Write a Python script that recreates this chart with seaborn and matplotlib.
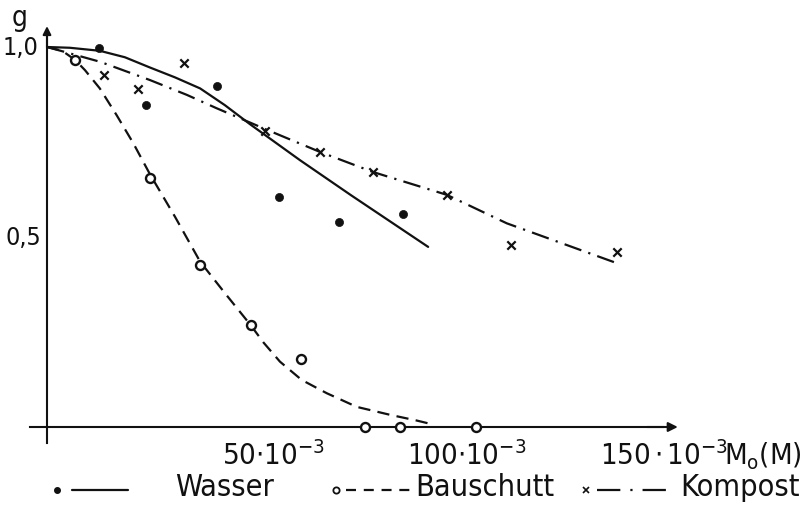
import matplotlib
matplotlib.use("Agg")
import matplotlib.pyplot as plt
import seaborn as sns
from matplotlib.lines import Line2D

# ---------------- data ----------------
wasser_x = [13.7, 26.0, 44.8, 61.0, 76.8, 93.7]
wasser_y = [0.997, 0.847, 0.897, 0.605, 0.540, 0.560]
wasser_fit_x = [0, 6, 13.9, 20.5, 27.1, 33.7, 40.3, 46.8, 53.4, 66.6, 80, 100.3]
wasser_fit_y = [1.0, 0.998, 0.990, 0.973, 0.946, 0.920, 0.891, 0.847, 0.797,
                0.702, 0.610, 0.474]

bau_x = [7.4, 27.1, 40.3, 53.6, 66.8, 83.7, 92.9, 112.9]
bau_y = [0.966, 0.655, 0.426, 0.268, 0.178, 0.0, 0.0, 0.0]
bau_fit_x = [0, 4, 7.4, 10, 13.9, 18.3, 22.7, 27.1, 33.7, 40.3, 47, 53.6, 57,
             61.3, 67, 73.6, 81.5, 90.3, 97.3, 101]
bau_fit_y = [1.0, 0.99, 0.966, 0.939, 0.891, 0.821, 0.747, 0.665, 0.553, 0.435,
             0.35, 0.268, 0.222, 0.172, 0.124, 0.089, 0.053, 0.032, 0.017, 0.008]

komp_x = [15.0, 24.0, 36.1, 57.5, 71.8, 85.8, 105.2, 122.0, 150.0]
komp_y = [0.926, 0.889, 0.958, 0.779, 0.724, 0.671, 0.611, 0.479, 0.461]
komp_fit_x = [0, 14, 27.1, 36.8, 44.6, 57.9, 71.8, 85.8, 105.2, 121, 150]
komp_fit_y = [1.0, 0.961, 0.913, 0.874, 0.839, 0.782, 0.724, 0.671, 0.611,
              0.536, 0.431]

x_ticks = [50, 100, 150]
x_tick_labels = [r"$\mathregular{50{\cdot}10^{-3}}$",
                 r"$\mathregular{100{\cdot}10^{-3}}$",
                 r"$\mathregular{150\,{\cdot}\,10^{-3}\!M_{o}(M)}$"]
y_ticks = [0.5, 1.0]
y_tick_labels = ["0,5", "1,0"]
series_names = ["Wasser", "Bauschutt", "Kompost"]

# ---------------- style ----------------
sns.set_style("white")
plt.rcParams["font.family"] = ["DejaVu Sans"]
plt.rcParams["font.stretch"] = "condensed"
plt.rcParams["mathtext.fontset"] = "custom"
plt.rcParams["mathtext.rm"] = "DejaVu Sans:stretch=condensed"
plt.rcParams["mathtext.it"] = "DejaVu Sans:stretch=condensed"

W, H = 812, 511
fig = plt.figure(figsize=(W / 100, H / 100), dpi=100)
ax = fig.add_axes([0, 0, 1, 1])
# pixel mapping: px = 47 + 3.8*x ; py = 427 - 380*y
ax.set_xlim((0 - 47) / 3.8, (W - 47) / 3.8)
ax.set_ylim((427 - H) / 380, 427 / 380)
ax.patch.set_alpha(0)

K = "#111111"
LW = 1.6

def fx(px):
    return px / W

def fy(py):
    return 1 - py / H

# ---------------- curves ----------------
sns.lineplot(x=wasser_fit_x, y=wasser_fit_y, sort=False, ax=ax, color=K, lw=LW,
             linestyle="-")
sns.lineplot(x=bau_fit_x, y=bau_fit_y, sort=False, ax=ax, color=K, lw=LW,
             linestyle=(0, (5.5, 3.3)))
sns.lineplot(x=komp_fit_x, y=komp_fit_y, sort=False, ax=ax, color=K, lw=LW,
             linestyle=(0, (8, 3.3, 1, 3.3)))

# ---------------- points ----------------
sns.scatterplot(x=wasser_x, y=wasser_y, ax=ax, marker="o", s=34, color=K,
                edgecolor=K, linewidth=0.5, zorder=5)
sns.scatterplot(x=bau_x, y=bau_y, ax=ax, marker="o", s=42, color="white",
                edgecolor=K, linewidth=1.7, zorder=5)
sns.scatterplot(x=komp_x, y=komp_y, ax=ax, marker="x", s=36, color=K,
                linewidth=1.6, zorder=5)

# ---------------- axes ----------------
for side in ["top", "right"]:
    ax.spines[side].set_visible(False)
ax.spines["left"].set_position(("data", 0))
ax.spines["bottom"].set_position(("data", 0))
ax.spines["left"].set_bounds(-0.042, 1.03)
ax.spines["bottom"].set_bounds(-4.5, 162)
for side in ["left", "bottom"]:
    ax.spines[side].set_linewidth(1.5)
    ax.spines[side].set_color(K)
ax.set_xticks(x_ticks)
ax.set_yticks(y_ticks)
ax.tick_params(direction="inout", length=8, width=1.5, color=K,
               labelbottom=False, labelleft=False)
ax.annotate("", xy=(166, 0), xytext=(158, 0),
            arrowprops=dict(arrowstyle="-|>", lw=1.5, color=K,
                            mutation_scale=14, shrinkA=0, shrinkB=0))
ax.annotate("", xy=(0, 1.055), xytext=(0, 1.0),
            arrowprops=dict(arrowstyle="-|>", lw=1.5, color=K,
                            mutation_scale=12, shrinkA=0, shrinkB=0))

FS = 21
# tick labels
lab_left = [222, 407, 600]
for px, lab in zip(lab_left, x_tick_labels):
    fig.text(fx(px), fy(465), lab, fontsize=FS, ha="left", va="baseline", color=K)
fig.text(fx(41), fy(238), y_tick_labels[0], fontsize=FS - 3, ha="right",
         va="center", color=K)
fig.text(fx(38), fy(48), y_tick_labels[1], fontsize=FS - 3, ha="right",
         va="center", color=K)
fig.text(fx(20), fy(18), "g", fontsize=FS - 1, ha="center", va="center", color=K)

# ---------------- legend (manual, as in the original) ----------------
ly = 490
fig.add_artist(Line2D([fx(57)], [fy(ly)], marker="o", ms=4, color=K, ls=""))
fig.add_artist(Line2D([fx(72), fx(128)], [fy(ly), fy(ly)], color=K, lw=LW))
fig.text(fx(175), fy(ly - 2), series_names[0], fontsize=FS + 1, ha="left",
         va="center", color=K)
fig.add_artist(Line2D([fx(336)], [fy(ly)], marker="o", ms=4.5, mfc="white",
                      mec=K, mew=1.3, color=K, ls=""))
fig.add_artist(Line2D([fx(346), fx(410)], [fy(ly), fy(ly)], color=K, lw=LW,
                      ls=(0, (4.5, 3.5))))
fig.text(fx(415), fy(ly - 2), series_names[1], fontsize=FS + 1, ha="left",
         va="center", color=K)
fig.add_artist(Line2D([fx(586)], [fy(ly)], marker="x", ms=5, mew=1.2, color=K,
                      ls=""))
fig.add_artist(Line2D([fx(597), fx(667)], [fy(ly), fy(ly)], color=K, lw=LW,
                      ls=(0, (10.5, 4.5, 1, 4.5))))
fig.text(fx(680), fy(ly - 2), series_names[2], fontsize=FS + 1, ha="left",
         va="center", color=K)

fig.savefig("out.png", dpi=100, facecolor="white")
